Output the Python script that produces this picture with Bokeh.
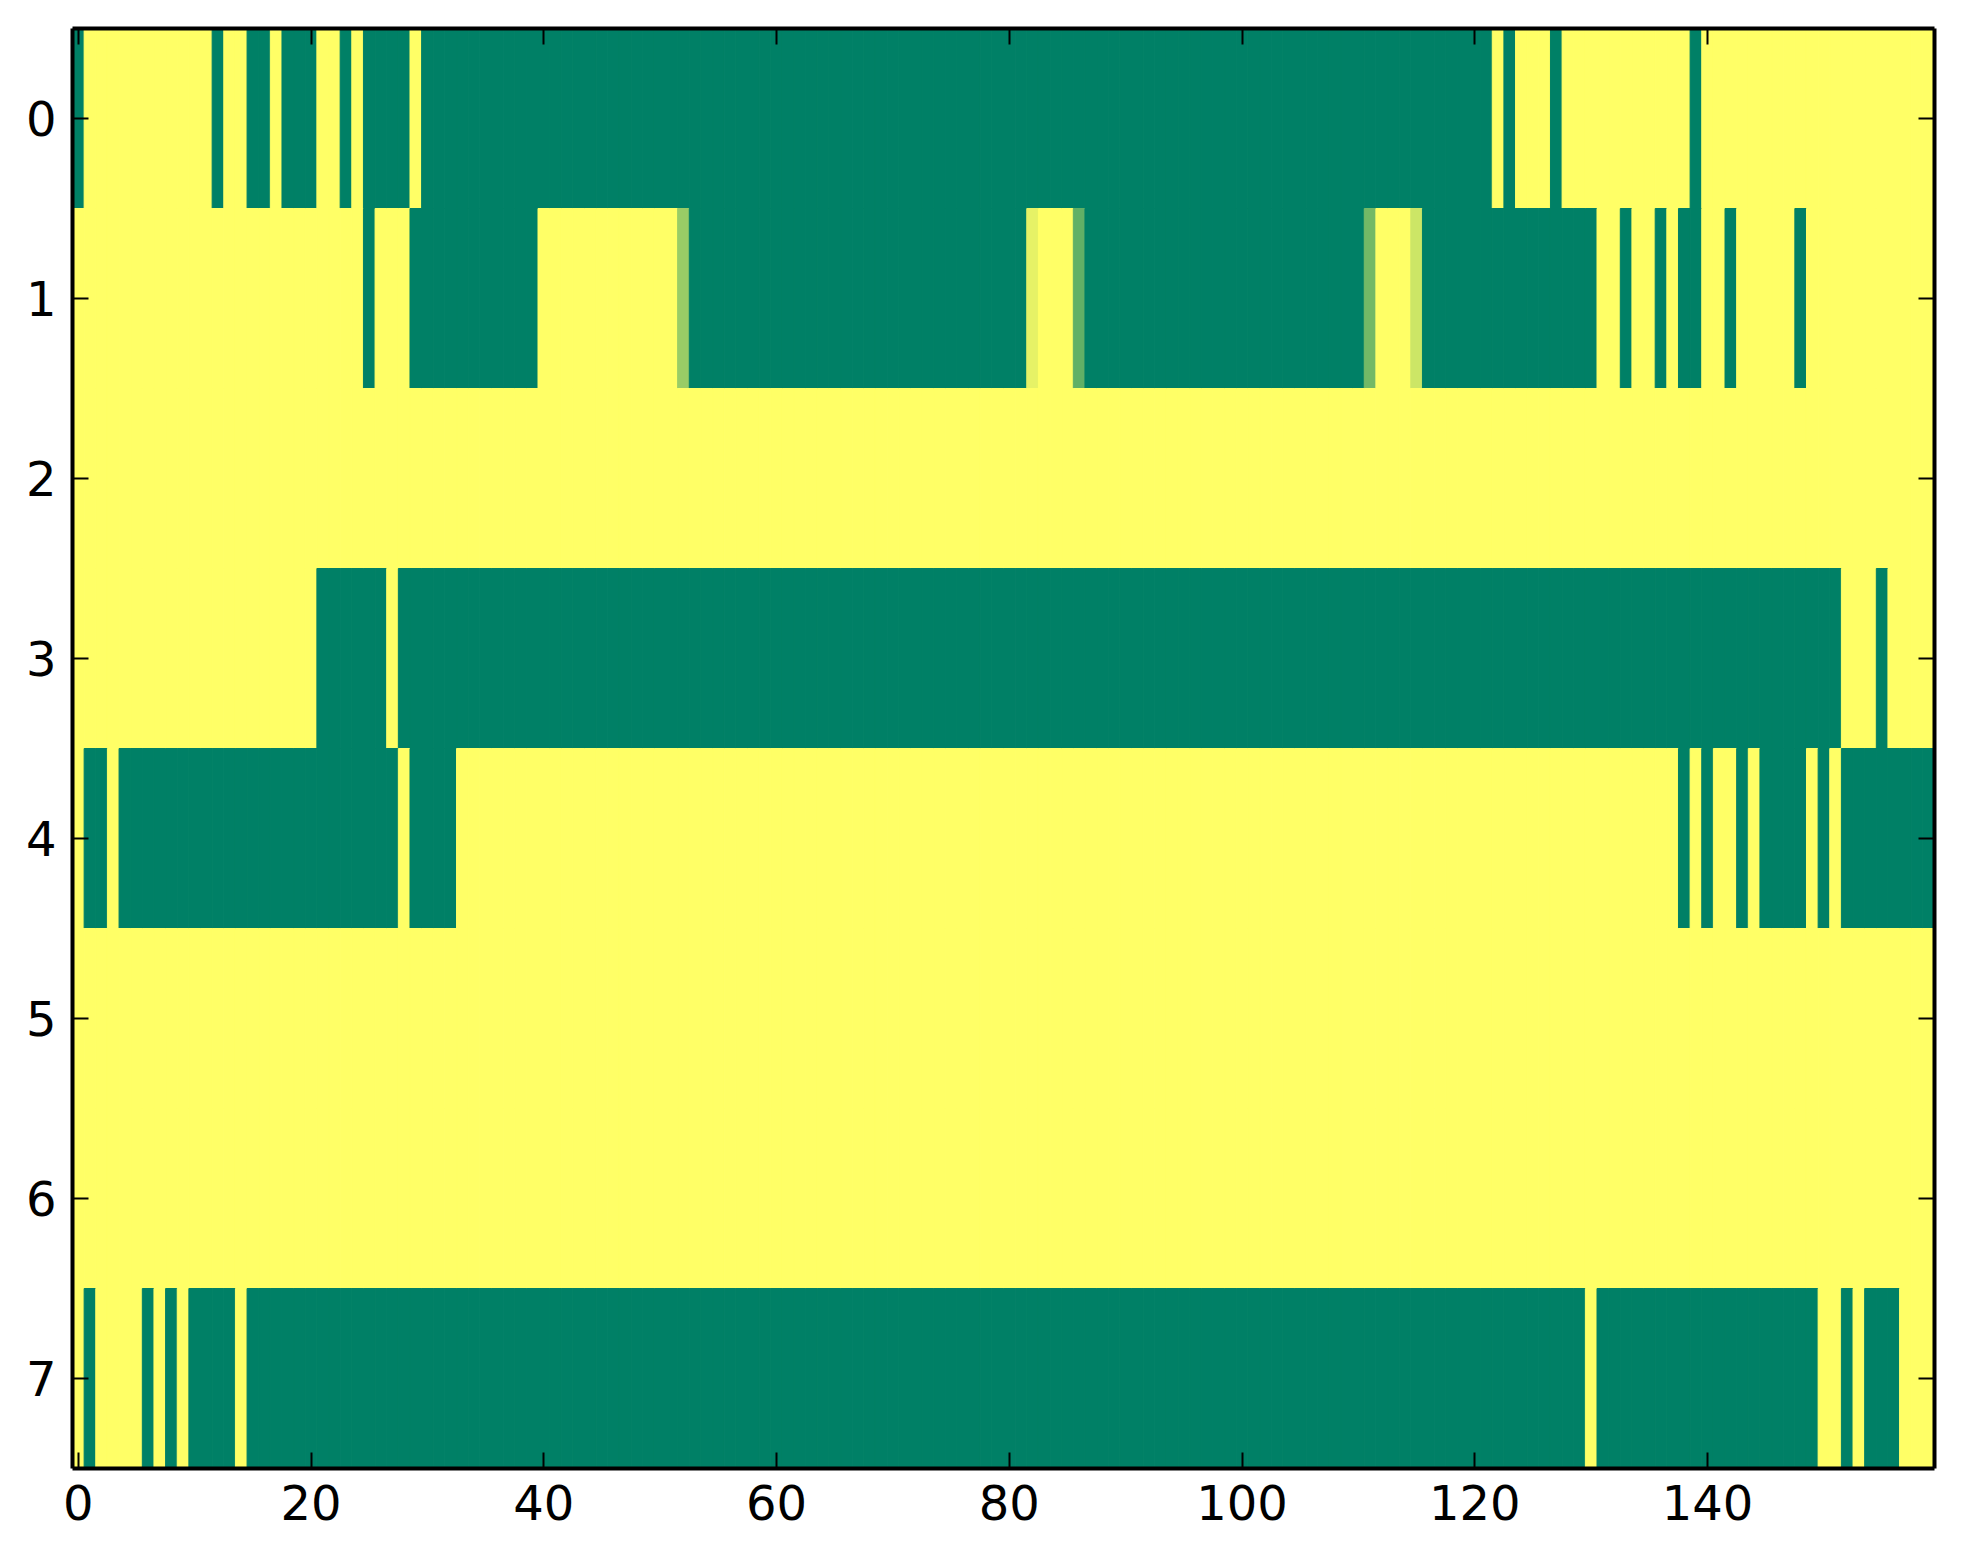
from bokeh.plotting import figure
from bokeh.models import ColumnDataSource, Range1d, LinearAxis, FixedTicker, CustomLabelingPolicy
from bokeh.embed import file_html
from bokeh.resources import INLINE

# ---- data: 8 rows x 160 columns (0 = green end, 1 = yellow end of "summer") ----
row0 = [0,1,1,1,1,1,1,1,1,1,1,1,0,1,1,0,0,1,0,0,
        0,1,1,0,1,0,0,0,0,1,0,0,0,0,0,0,0,0,0,0,
        0,0,0,0,0,0,0,0,0,0,0,0,0,0,0,0,0,0,0,0,
        0,0,0,0,0,0,0,0,0,0,0,0,0,0,0,0,0,0,0,0,
        0,0,0,0,0,0,0,0,0,0,0,0,0,0,0,0,0,0,0,0,
        0,0,0,0,0,0,0,0,0,0,0,0,0,0,0,0,0,0,0,0,
        0,0,1,0,1,1,1,0,1,1,1,1,1,1,1,1,1,1,1,0,
        1,1,1,1,1,1,1,1,1,1,1,1,1,1,1,1,1,1,1,1]
row1 = [1,1,1,1,1,1,1,1,1,1,1,1,1,1,1,1,1,1,1,1,
        1,1,1,1,1,0,1,1,1,0,0,0,0,0,0,0,0,0,0,0,
        1,1,1,1,1,1,1,1,1,1,1,1,0.6,0,0,0,0,0,0,0,
        0,0,0,0,0,0,0,0,0,0,0,0,0,0,0,0,0,0,0,0,
        0,0,0.9,1,1,1,0.38,0,0,0,0,0,0,0,0,0,0,0,0,0,
        0,0,0,0,0,0,0,0,0,0,0,0.45,1,1,1,0.8,0,0,0,0,
        0,0,0,0,0,0,0,0,0,0,0,1,1,0,1,1,0,1,0,0,
        1,1,0,1,1,1,1,1,0,1,1,1,1,1,1,1,1,1,1,1]
row2 = [1,1,1,1,1,1,1,1,1,1,1,1,1,1,1,1,1,1,1,1,
        1,1,1,1,1,1,1,1,1,1,1,1,1,1,1,1,1,1,1,1,
        1,1,1,1,1,1,1,1,1,1,1,1,1,1,1,1,1,1,1,1,
        1,1,1,1,1,1,1,1,1,1,1,1,1,1,1,1,1,1,1,1,
        1,1,1,1,1,1,1,1,1,1,1,1,1,1,1,1,1,1,1,1,
        1,1,1,1,1,1,1,1,1,1,1,1,1,1,1,1,1,1,1,1,
        1,1,1,1,1,1,1,1,1,1,1,1,1,1,1,1,1,1,1,1,
        1,1,1,1,1,1,1,1,1,1,1,1,1,1,1,1,1,1,1,1]
row3 = [1,1,1,1,1,1,1,1,1,1,1,1,1,1,1,1,1,1,1,1,
        1,0,0,0,0,0,0,1,0,0,0,0,0,0,0,0,0,0,0,0,
        0,0,0,0,0,0,0,0,0,0,0,0,0,0,0,0,0,0,0,0,
        0,0,0,0,0,0,0,0,0,0,0,0,0,0,0,0,0,0,0,0,
        0,0,0,0,0,0,0,0,0,0,0,0,0,0,0,0,0,0,0,0,
        0,0,0,0,0,0,0,0,0,0,0,0,0,0,0,0,0,0,0,0,
        0,0,0,0,0,0,0,0,0,0,0,0,0,0,0,0,0,0,0,0,
        0,0,0,0,0,0,0,0,0,0,0,0,1,1,1,0,1,1,1,1]
row4 = [1,0,0,1,0,0,0,0,0,0,0,0,0,0,0,0,0,0,0,0,
        0,0,0,0,0,0,0,0,1,0,0,0,0,1,1,1,1,1,1,1,
        1,1,1,1,1,1,1,1,1,1,1,1,1,1,1,1,1,1,1,1,
        1,1,1,1,1,1,1,1,1,1,1,1,1,1,1,1,1,1,1,1,
        1,1,1,1,1,1,1,1,1,1,1,1,1,1,1,1,1,1,1,1,
        1,1,1,1,1,1,1,1,1,1,1,1,1,1,1,1,1,1,1,1,
        1,1,1,1,1,1,1,1,1,1,1,1,1,1,1,1,1,1,0,1,
        0,1,1,0,1,0,0,0,0,1,0,1,0,0,0,0,0,0,0,0]
row5 = [1,1,1,1,1,1,1,1,1,1,1,1,1,1,1,1,1,1,1,1,
        1,1,1,1,1,1,1,1,1,1,1,1,1,1,1,1,1,1,1,1,
        1,1,1,1,1,1,1,1,1,1,1,1,1,1,1,1,1,1,1,1,
        1,1,1,1,1,1,1,1,1,1,1,1,1,1,1,1,1,1,1,1,
        1,1,1,1,1,1,1,1,1,1,1,1,1,1,1,1,1,1,1,1,
        1,1,1,1,1,1,1,1,1,1,1,1,1,1,1,1,1,1,1,1,
        1,1,1,1,1,1,1,1,1,1,1,1,1,1,1,1,1,1,1,1,
        1,1,1,1,1,1,1,1,1,1,1,1,1,1,1,1,1,1,1,1]
row6 = [1,1,1,1,1,1,1,1,1,1,1,1,1,1,1,1,1,1,1,1,
        1,1,1,1,1,1,1,1,1,1,1,1,1,1,1,1,1,1,1,1,
        1,1,1,1,1,1,1,1,1,1,1,1,1,1,1,1,1,1,1,1,
        1,1,1,1,1,1,1,1,1,1,1,1,1,1,1,1,1,1,1,1,
        1,1,1,1,1,1,1,1,1,1,1,1,1,1,1,1,1,1,1,1,
        1,1,1,1,1,1,1,1,1,1,1,1,1,1,1,1,1,1,1,1,
        1,1,1,1,1,1,1,1,1,1,1,1,1,1,1,1,1,1,1,1,
        1,1,1,1,1,1,1,1,1,1,1,1,1,1,1,1,1,1,1,1]
row7 = [1,0,1,1,1,1,0,1,0,1,0,0,0,0,1,0,0,0,0,0,
        0,0,0,0,0,0,0,0,0,0,0,0,0,0,0,0,0,0,0,0,
        0,0,0,0,0,0,0,0,0,0,0,0,0,0,0,0,0,0,0,0,
        0,0,0,0,0,0,0,0,0,0,0,0,0,0,0,0,0,0,0,0,
        0,0,0,0,0,0,0,0,0,0,0,0,0,0,0,0,0,0,0,0,
        0,0,0,0,0,0,0,0,0,0,0,0,0,0,0,0,0,0,0,0,
        0,0,0,0,0,0,0,0,0,0,1,0,0,0,0,0,0,0,0,0,
        0,0,0,0,0,0,0,0,0,0,1,1,0,1,0,0,0,1,1,1]

rows = [row0, row1, row2, row3, row4, row5, row6, row7]
x_ticks = [0, 20, 40, 60, 80, 100, 120, 140]
y_ticks = [0, 1, 2, 3, 4, 5, 6, 7]


def summer(v):
    i = min(int(v * 256), 255) / 255.0
    r = int(round(255 * i))
    g = int(round(255 * (0.5 + 0.5 * i)))
    b = 102
    return "#%02x%02x%02x" % (r, g, b)


left, right, top, bottom, color = [], [], [], [], []
for r, vals in enumerate(rows):
    for c, v in enumerate(vals):
        left.append(c - 0.5)
        right.append(c + 0.5)
        top.append(r - 0.5)
        bottom.append(r + 0.5)
        color.append(summer(v))

src = ColumnDataSource(dict(left=left, right=right, top=top, bottom=bottom, color=color))

ncols = len(row0)
nrows = len(rows)

p = figure(frame_width=1862, frame_height=1440,
           x_range=Range1d(-0.5, ncols - 0.5), y_range=Range1d(nrows - 0.5, -0.5),
           output_backend="svg", toolbar_location=None,
           min_border_left=72, min_border_right=16, min_border_top=28, min_border_bottom=76,
           background_fill_color="white", border_fill_color="white")
p.outline_line_color = None
p.grid.visible = False

p.quad(left="left", right="right", top="top", bottom="bottom", source=src,
       fill_color="color", line_color="color", line_width=1)

p.add_layout(LinearAxis(), "above")
p.add_layout(LinearAxis(), "right")

for ax in p.xaxis:
    ax.ticker = FixedTicker(ticks=x_ticks)
for ax in p.yaxis:
    ax.ticker = FixedTicker(ticks=y_ticks)

for ax in p.axis:
    ax.major_tick_in = 16
    ax.major_tick_out = 0
    ax.major_tick_line_width = 2
    ax.major_tick_line_color = "black"
    ax.minor_tick_line_color = None
    ax.axis_line_width = 4
    ax.axis_line_color = "black"
    ax.major_label_text_font = "DejaVu Sans"
    ax.major_label_text_font_size = "48px"
    ax.major_label_text_color = "black"
    ax.major_label_standoff = 16

no_labels = CustomLabelingPolicy(code="return new Set()")
for ax in p.above + p.right:
    ax.major_label_policy = no_labels
    ax.major_label_standoff = 0
    ax.major_label_text_font_size = "1px"

open("out.html", "w").write(file_html(p, INLINE))
